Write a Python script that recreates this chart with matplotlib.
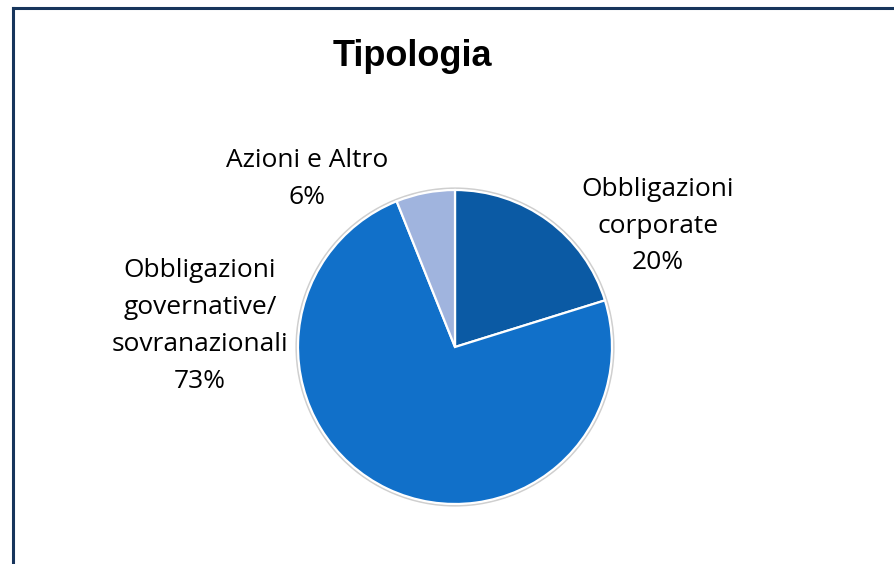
import matplotlib.pyplot as plt
from matplotlib.lines import Line2D
from matplotlib.patches import Circle

W, H = 895, 564

categorie = ["Obbligazioni\ncorporate", "Obbligazioni\ngovernative/\nsovranazionali", "Azioni e Altro"]
valori = [20, 73, 6]
colori = ["#0b5aa4", "#1170c9", "#a0b4de"]

fig = plt.figure(figsize=(W / 100, H / 100), dpi=100)

# asse del grafico a torta: centro (455, 347) px, raggio 157 px
cx, cy, r = 455, 347, 157
m = 1.03
ra = r * m
ax = fig.add_axes([(cx - ra) / W, 1 - (cy + ra) / H, 2 * ra / W, 2 * ra / H])
ax.add_patch(Circle((0, 0), 1.01, facecolor="none", edgecolor="#cfcfcf", lw=1.5, zorder=0))
ax.pie(valori, colors=colori, startangle=90, counterclock=False,
       wedgeprops=dict(edgecolor="white", linewidth=1.6))
ax.set_xlim(-m, m)
ax.set_ylim(-m, m)
ax.set_aspect("auto")
ax.axis("off")

# cornice (solo sinistra e alto)
fig.add_artist(Line2D([13 / W, 13 / W], [0, 1 - 8 / H], transform=fig.transFigure,
                      color="#17355c", lw=2.2))
fig.add_artist(Line2D([13 / W, 1], [1 - 8 / H, 1 - 8 / H], transform=fig.transFigure,
                      color="#17355c", lw=2.2))


def px(x, y):
    return x / W, 1 - y / H


fig.text(*px(412, 56), "Tipologia", ha="center", va="center",
         fontsize=26, fontweight="bold", family="Liberation Sans")

font = dict(fontsize=19, family="Open Sans", ha="center", va="center", linespacing=1.62)
etichette = [f"{c}\n{v}%" for c, v in zip(categorie, valori)]
fig.text(*px(658, 226), etichette[0], **font)
fig.text(*px(200, 326), etichette[1], **font)
fig.text(*px(307, 179), etichette[2], **font)

fig.savefig("out.png", dpi=100)
